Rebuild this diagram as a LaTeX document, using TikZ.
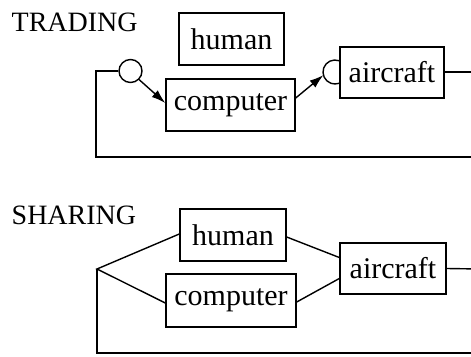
\documentclass[tikz,border=0pt]{standalone}
\usepackage{fontspec}
\setmainfont{Liberation Serif}
\usetikzlibrary{arrows.meta}
\begin{document}
\begin{tikzpicture}[x=1pt,y=-1pt,
  line width=1.4pt,
  blk/.style={draw,rectangle,inner sep=0pt,font=\fontsize{30}{36}\selectfont},
  lbl/.style={inner sep=0pt,font=\fontsize{28}{34}\selectfont},
  arr/.style={-{Latex[length=14pt,width=9pt]}},
  ring/.style={draw,circle,inner sep=0pt,minimum size=23pt}]
\useasboundingbox (0,0) rectangle (471,356);
\clip (0,0) rectangle (471,356);
% TRADING
\node[lbl,anchor=base west] (trading) at (11,31) {TRADING};
\node[blk,minimum width=105pt,minimum height=52pt] (h1) at (231.5,39) {human};
\node[blk,minimum width=129pt,minimum height=52pt] (c1) at (230.5,105) {computer};
\node[blk,minimum width=104pt,minimum height=51pt] (a1) at (392,72.5) {aircraft};
\node[ring] (r1) at (130.5,71) {};
\coordinate (hc) at (335,72);
\draw ([shift={(70:12pt)}]hc) arc[start angle=70,end angle=290,radius=12pt];
\coordinate (hct) at ([shift={(195:12pt)}]hc);
\coordinate (l1) at (96,71);
\coordinate (b1) at (480,157);
\coordinate (e1) at (480,72);
\draw (r1.west) -- (l1) |- (b1);
\draw (a1.east |- e1) -- (e1);
\draw[arr] (r1.-45) -- ([yshift=2pt]c1.west);
\draw[arr] ([yshift=7pt]c1.east) -- (hct);
% SHARING
\node[lbl,anchor=base west] (sharing) at (11,224) {SHARING};
\node[blk,minimum width=106pt,minimum height=52pt] (h2) at (233,235) {human};
\node[blk,minimum width=130pt,minimum height=53pt] (c2) at (231,300.5) {computer};
\node[blk,minimum width=106pt,minimum height=51pt] (a2) at (393,268.5) {aircraft};
\coordinate (j) at (97,269);
\coordinate (b2) at (480,353);
\coordinate (e2) at (480,269);
\draw ([yshift=1pt]h2.west) -- (j) -- ([yshift=-2.5pt]c2.west);
\draw (j) |- (b2);
\draw ([yshift=-2pt]h2.east) -- ([yshift=11pt]a2.west);
\draw ([yshift=-1.5pt]c2.east) -- ([yshift=-10pt]a2.west);
\draw (a2.east) -- (e2);
\end{tikzpicture}
\end{document}
